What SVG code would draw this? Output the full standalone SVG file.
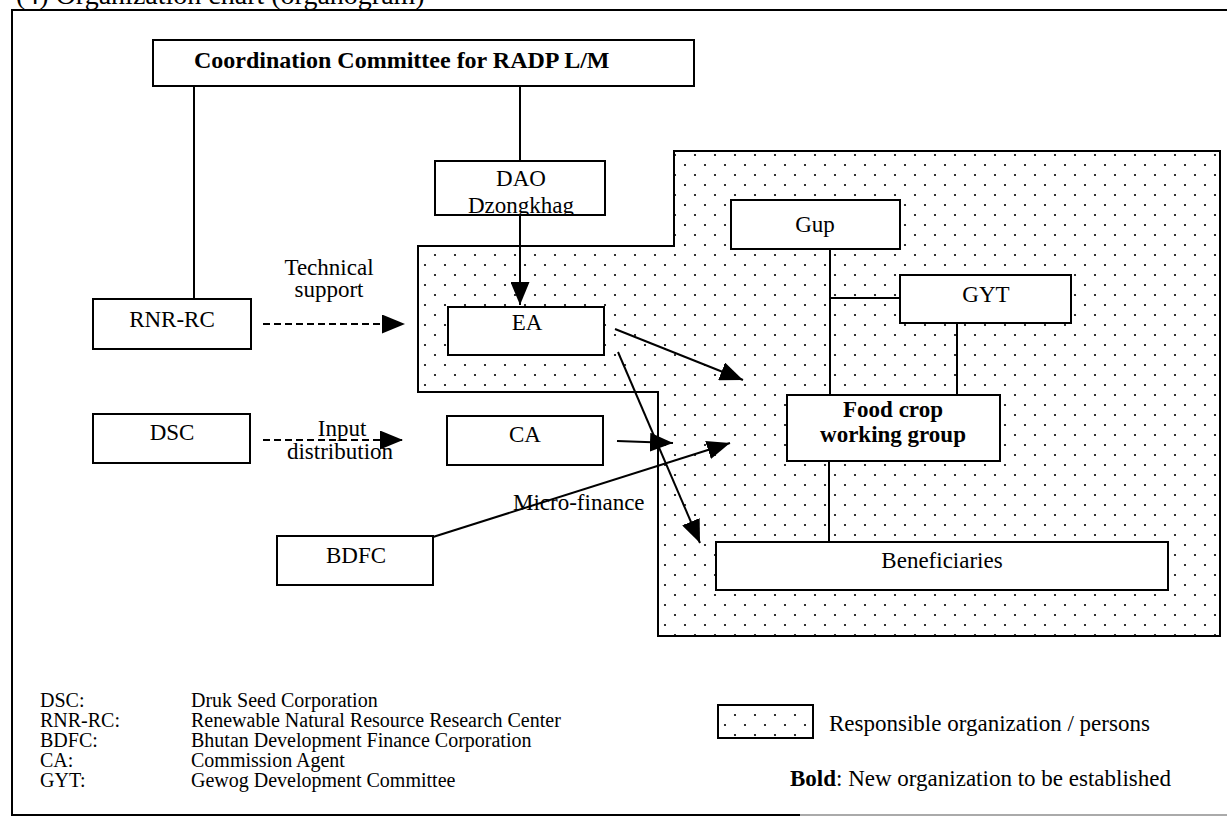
<svg xmlns="http://www.w3.org/2000/svg" width="1227" height="828" viewBox="0 0 1227 828">
<style>
text{font-family:"Liberation Serif","Times New Roman",serif;font-size:23px;fill:#000}
.b{font-weight:bold}
.c{text-anchor:middle}
.lg{font-size:20px}
.box{fill:#fff;stroke:#000;stroke-width:2}
.ln{fill:none;stroke:#000;stroke-width:2}
.ar{fill:none;stroke:#000;stroke-width:2;marker-end:url(#arr)}
.da{fill:none;stroke:#000;stroke-width:2;stroke-dasharray:7 4;marker-end:url(#arr)}
</style>
<defs>
<pattern id="dots" width="20" height="20" patternUnits="userSpaceOnUse">
<circle cx="5" cy="5" r="1.1" fill="#000"/>
<circle cx="15" cy="15" r="1.1" fill="#000"/>
</pattern>
<marker id="arr" markerUnits="userSpaceOnUse" markerWidth="23" markerHeight="19" refX="23" refY="9.5" orient="auto">
<path d="M0,0 L23,9.5 L0,19 z" fill="#000"/>
</marker>
<clipPath id="daoclip"><rect x="435" y="161" width="170" height="54"/></clipPath>
</defs>
<rect width="1227" height="828" fill="#fff"/>
<text x="16" y="4" style="font-size:28px">(4) Organization chart (organogram)</text>
<path class="ln" d="M1227,10 H12 V815 H800"/>
<path d="M800,815 H1227" fill="none" stroke="#aaa" stroke-width="2"/>

<g id="responsible-area">
<path d="M418,246 H674 V151 H1220 V636 H658 V392 H418 Z" fill="url(#dots)" stroke="#000" stroke-width="2"/>
</g>

<g id="connectors">
<path class="ln" d="M194,86 V299"/>
<path class="ln" d="M520,86 V161"/>
<path class="ar" d="M520,215 V305"/>
<path class="da" d="M263,324 H405"/>
<path class="da" d="M263,440 H403"/>
<path class="ar" d="M615,329 L743,380"/>
<path class="ar" d="M618,352 L700,543"/>
<path class="ar" d="M617,441 L673,443"/>
<path class="ar" d="M433,537 L730,443"/>
<path class="ln" d="M830,249 V395"/>
<path class="ln" d="M830,298 H900"/>
<path class="ln" d="M957,323 V395"/>
<path class="ln" d="M829,461 V542"/>
<text x="329" y="275" class="c">Technical</text>
<text x="329" y="297" class="c">support</text>
<text x="342" y="436" class="c">Input</text>
<text x="340" y="459" class="c">distribution</text>
<text x="513" y="510">Micro-finance</text>
</g>

<g id="coordination">
<rect class="box" x="153" y="40" width="541" height="46"/>
<text x="194" y="68" class="b" style="font-size:24px">Coordination Committee for RADP L/M</text>
</g>
<g id="dao">
<rect class="box" x="435" y="161" width="170" height="54"/>
<g clip-path="url(#daoclip)">
<text x="521" y="186" class="c">DAO</text>
<text x="521" y="213" class="c">Dzongkhag</text>
</g>
</g>
<g id="rnr-rc">
<rect class="box" x="93" y="299" width="158" height="50"/>
<text x="172" y="327" class="c">RNR-RC</text>
</g>
<g id="dsc">
<rect class="box" x="93" y="414" width="157" height="49"/>
<text x="172" y="440" class="c">DSC</text>
</g>
<g id="ea">
<rect class="box" x="448" y="307" width="156" height="48"/>
<text x="527" y="330" class="c">EA</text>
</g>
<g id="ca">
<rect class="box" x="447" y="416" width="156" height="49"/>
<text x="525" y="442" class="c">CA</text>
</g>
<g id="bdfc">
<rect class="box" x="277" y="536" width="156" height="49"/>
<text x="356" y="563" class="c">BDFC</text>
</g>
<g id="gup">
<rect class="box" x="731" y="200" width="169" height="49"/>
<text x="815" y="232" class="c">Gup</text>
</g>
<g id="gyt">
<rect class="box" x="900" y="275" width="171" height="48"/>
<text x="986" y="302" class="c">GYT</text>
</g>
<g id="food-crop">
<rect class="box" x="787" y="395" width="213" height="66"/>
<text x="893" y="417" class="c b">Food crop</text>
<text x="893" y="442" class="c b">working group</text>
</g>
<g id="beneficiaries">
<rect class="box" x="716" y="542" width="452" height="48"/>
<text x="942" y="568" class="c">Beneficiaries</text>
</g>

<g id="legend">
<text class="lg" x="40" y="707">DSC:</text>
<text class="lg" x="40" y="727">RNR-RC:</text>
<text class="lg" x="40" y="747">BDFC:</text>
<text class="lg" x="40" y="767">CA:</text>
<text class="lg" x="40" y="787">GYT:</text>
<text class="lg" x="191" y="707">Druk Seed Corporation</text>
<text class="lg" x="191" y="727">Renewable Natural Resource Research Center</text>
<text class="lg" x="191" y="747">Bhutan Development Finance Corporation</text>
<text class="lg" x="191" y="767">Commission Agent</text>
<text class="lg" x="191" y="787">Gewog Development Committee</text>
<rect x="718" y="705" width="95" height="33" fill="url(#dots)" stroke="#000" stroke-width="2"/>
<text x="829" y="731">Responsible organization / persons</text>
<text x="790" y="786"><tspan class="b">Bold</tspan>: New organization to be established</text>
</g>
</svg>
